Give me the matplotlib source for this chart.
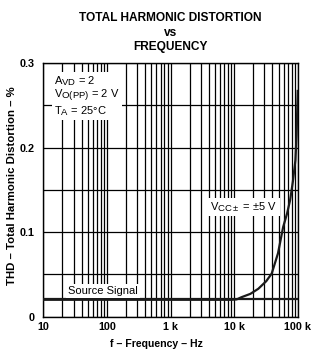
import matplotlib
matplotlib.use("Agg")
import matplotlib.pyplot as plt
import matplotlib._mathtext as mathtext_internals
from matplotlib.ticker import FixedLocator, NullFormatter

plt.rcParams['font.family'] = ['Liberation Sans', 'DejaVu Sans']
plt.rcParams['mathtext.fontset'] = 'custom'
plt.rcParams['mathtext.rm'] = 'Liberation Sans'
plt.rcParams['mathtext.it'] = 'Liberation Sans'
plt.rcParams['mathtext.bf'] = 'Liberation Sans:bold'
# datasheet subscripts are only slightly smaller than the main text
mathtext_internals.SHRINK_FACTOR = 0.85

# THD vs frequency, VCC = +/-5 V
freq = [10, 100, 1000, 9000, 11000, 13000, 18000, 24000, 32000, 39000,
        49000, 59000, 68000, 76000, 84000, 92000, 96000, 100000]
thd = [0.02, 0.02, 0.02, 0.02, 0.0205, 0.023, 0.027, 0.033, 0.042, 0.051,
       0.075, 0.106, 0.122, 0.138, 0.160, 0.185, 0.215, 0.267]

source_level = 0.021

xticks = [10, 100, 1000, 10000, 100000]
xtick_labels = ['10', '100', '1 k', '10 k', '100 k']
yticks = [0, 0.1, 0.2, 0.3]
ytick_labels = ['0', '0.1', '0.2', '0.3']

fig = plt.figure(figsize=(3.29, 3.56), dpi=100)
ax = fig.add_axes([0.1316, 0.1104, 0.7733, 0.7126])

ax.set_xscale('log')
ax.set_xlim(10, 100000)
ax.set_ylim(0, 0.3)

# grid: every 1..9 per decade, every 0.05 vertically
minor_x = [m * 10 ** d for d in range(1, 5) for m in range(2, 10)]
ax.xaxis.set_major_locator(FixedLocator(xticks))
ax.xaxis.set_minor_locator(FixedLocator(minor_x))
ax.xaxis.set_minor_formatter(NullFormatter())
ax.set_xticklabels(xtick_labels)
ax.yaxis.set_major_locator(FixedLocator(yticks))
ax.yaxis.set_minor_locator(FixedLocator([0.05, 0.15, 0.25]))
ax.set_yticklabels(ytick_labels)
ax.grid(True, which='both', color='black', linewidth=0.9)
ax.set_axisbelow(True)
ax.tick_params(which='both', length=0, labelsize=7.8)
ax.tick_params(axis='y', pad=6)
ax.tick_params(axis='x', pad=4)
for lab in ax.get_xticklabels() + ax.get_yticklabels():
    lab.set_fontweight('bold')
for sp in ax.spines.values():
    sp.set_linewidth(1.0)

ax.axhline(source_level, color='#1a1a1a', linewidth=1.6, zorder=3)
ax.plot(freq, thd, color='#1a1a1a', linewidth=1.6, zorder=4)

box = dict(facecolor='white', edgecolor='none', pad=1.5)
ax.text(15, 0.287, r'$\mathregular{A_{VD}}$ = 2' + '\n'
        + r'$\mathregular{V_{O(PP)}}$ = 2 V' + '\n'
        + r'$\mathregular{T_{A}}$ = 25°C',
        fontsize=8, va='top', ha='left', linespacing=1.0, bbox=box, zorder=5)
ax.text(4200, 0.13, r'$\mathregular{V_{CC\pm}}$ = ±5 V', fontsize=8,
        va='center', ha='left', bbox=box, zorder=5)
ax.text(24.5, 0.0305, 'Source Signal', fontsize=8, va='center', ha='left',
        bbox=box, zorder=5)

fig.text(0.518, 0.950, 'TOTAL HARMONIC DISTORTION', ha='center', va='center',
         fontsize=8.6, fontweight='bold')
fig.text(0.518, 0.907, 'vs', ha='center', va='center',
         fontsize=8.6, fontweight='bold')
fig.text(0.518, 0.868, 'FREQUENCY', ha='center', va='center',
         fontsize=8.6, fontweight='bold')

fig.text(0.474, 0.034, 'f \u2013 Frequency \u2013 Hz', ha='center', va='center',
         fontsize=7.6, fontweight='bold')
fig.text(0.036, 0.479, 'THD \u2013 Total Harmonic Distortion \u2013 %',
         ha='center', va='center', rotation=90, fontsize=8.2, fontweight='bold')

fig.savefig('out.png', dpi=100)
